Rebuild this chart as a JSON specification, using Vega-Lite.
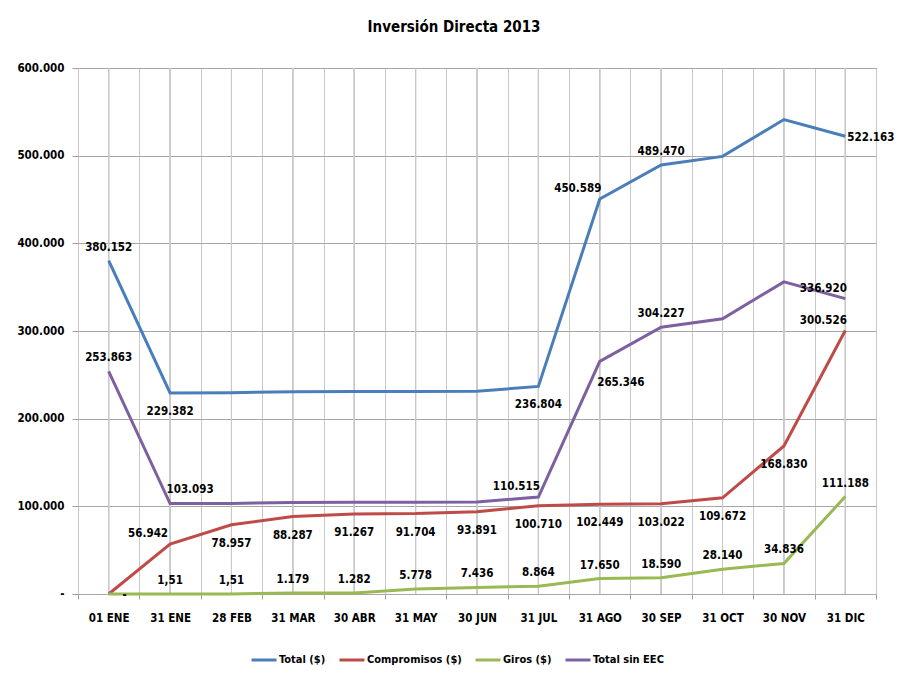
{
  "$schema": "https://vega.github.io/schema/vega-lite/v6.json",
  "autosize": {"type": "none"},
  "width": 798,
  "height": 526,
  "padding": {"left": 78, "top": 68, "right": 24, "bottom": 83},
  "background": "white",
  "title": {"text": "Inversión Directa 2013", "fontSize": 15, "fontWeight": "bold", "color": "#000000", "font": "DejaVu Sans Condensed, Liberation Sans, sans-serif", "anchor": "middle", "dx": -23, "offset": 27},
  "config": {
    "locale": {"number": {"decimal": ",", "thousands": ".", "grouping": [3], "currency": ["$", ""]}},
    "view": {"stroke": "#a0a0a0", "strokeWidth": 1},
    "font": "DejaVu Sans Condensed, Liberation Sans, sans-serif",
    "text": {"font": "DejaVu Sans Condensed, Liberation Sans, sans-serif", "fontSize": 11.5, "fontWeight": "bold", "fill": "#000000"}
  },
  "data": {"values": [
    {"serie": "Total ($)", "fecha": "01 ENE", "valor": 380152},
    {"serie": "Total ($)", "fecha": "31 ENE", "valor": 229382},
    {"serie": "Total ($)", "fecha": "28 FEB", "valor": 229600},
    {"serie": "Total ($)", "fecha": "31 MAR", "valor": 230800},
    {"serie": "Total ($)", "fecha": "30 ABR", "valor": 230900},
    {"serie": "Total ($)", "fecha": "31 MAY", "valor": 231100},
    {"serie": "Total ($)", "fecha": "30 JUN", "valor": 231300},
    {"serie": "Total ($)", "fecha": "31 JUL", "valor": 236804},
    {"serie": "Total ($)", "fecha": "31 AGO", "valor": 450589},
    {"serie": "Total ($)", "fecha": "30 SEP", "valor": 489470},
    {"serie": "Total ($)", "fecha": "31 OCT", "valor": 499200},
    {"serie": "Total ($)", "fecha": "30 NOV", "valor": 541200},
    {"serie": "Total ($)", "fecha": "31 DIC", "valor": 522163},
    {"serie": "Compromisos ($)", "fecha": "01 ENE", "valor": 0},
    {"serie": "Compromisos ($)", "fecha": "31 ENE", "valor": 56942},
    {"serie": "Compromisos ($)", "fecha": "28 FEB", "valor": 78957},
    {"serie": "Compromisos ($)", "fecha": "31 MAR", "valor": 88287},
    {"serie": "Compromisos ($)", "fecha": "30 ABR", "valor": 91267},
    {"serie": "Compromisos ($)", "fecha": "31 MAY", "valor": 91704},
    {"serie": "Compromisos ($)", "fecha": "30 JUN", "valor": 93891},
    {"serie": "Compromisos ($)", "fecha": "31 JUL", "valor": 100710},
    {"serie": "Compromisos ($)", "fecha": "31 AGO", "valor": 102449},
    {"serie": "Compromisos ($)", "fecha": "30 SEP", "valor": 103022},
    {"serie": "Compromisos ($)", "fecha": "31 OCT", "valor": 109672},
    {"serie": "Compromisos ($)", "fecha": "30 NOV", "valor": 168830},
    {"serie": "Compromisos ($)", "fecha": "31 DIC", "valor": 300526},
    {"serie": "Giros ($)", "fecha": "01 ENE", "valor": 0},
    {"serie": "Giros ($)", "fecha": "31 ENE", "valor": 1.51},
    {"serie": "Giros ($)", "fecha": "28 FEB", "valor": 1.51},
    {"serie": "Giros ($)", "fecha": "31 MAR", "valor": 1179},
    {"serie": "Giros ($)", "fecha": "30 ABR", "valor": 1282},
    {"serie": "Giros ($)", "fecha": "31 MAY", "valor": 5778},
    {"serie": "Giros ($)", "fecha": "30 JUN", "valor": 7436},
    {"serie": "Giros ($)", "fecha": "31 JUL", "valor": 8864},
    {"serie": "Giros ($)", "fecha": "31 AGO", "valor": 17650},
    {"serie": "Giros ($)", "fecha": "30 SEP", "valor": 18590},
    {"serie": "Giros ($)", "fecha": "31 OCT", "valor": 28140},
    {"serie": "Giros ($)", "fecha": "30 NOV", "valor": 34836},
    {"serie": "Giros ($)", "fecha": "31 DIC", "valor": 111188},
    {"serie": "Total sin EEC", "fecha": "01 ENE", "valor": 253863},
    {"serie": "Total sin EEC", "fecha": "31 ENE", "valor": 103093},
    {"serie": "Total sin EEC", "fecha": "28 FEB", "valor": 103300},
    {"serie": "Total sin EEC", "fecha": "31 MAR", "valor": 104500},
    {"serie": "Total sin EEC", "fecha": "30 ABR", "valor": 104600},
    {"serie": "Total sin EEC", "fecha": "31 MAY", "valor": 104800},
    {"serie": "Total sin EEC", "fecha": "30 JUN", "valor": 105000},
    {"serie": "Total sin EEC", "fecha": "31 JUL", "valor": 110515},
    {"serie": "Total sin EEC", "fecha": "31 AGO", "valor": 265346},
    {"serie": "Total sin EEC", "fecha": "30 SEP", "valor": 304227},
    {"serie": "Total sin EEC", "fecha": "31 OCT", "valor": 314000},
    {"serie": "Total sin EEC", "fecha": "30 NOV", "valor": 356000},
    {"serie": "Total sin EEC", "fecha": "31 DIC", "valor": 336920}
  ]},
  "encoding": {
    "x": {
      "field": "fecha", "type": "ordinal",
      "sort": ["01 ENE", "31 ENE", "28 FEB", "31 MAR", "30 ABR", "31 MAY", "30 JUN", "31 JUL", "31 AGO", "30 SEP", "31 OCT", "30 NOV", "31 DIC"],
      "scale": {"type": "band", "paddingInner": 0, "paddingOuter": 0},
      "bandPosition": 0.5,
      "axis": {
        "title": null, "labelAngle": 0, "tickBand": "extent", "grid": true, "gridColor": "#c8c8c8", "gridWidth": 1,
        "domain": false, "ticks": true, "tickColor": "#a0a0a0", "tickSize": 5, "labelPadding": 13,
        "labelFont": "DejaVu Sans Condensed, Liberation Sans, sans-serif", "labelFontSize": 11.5, "labelFontWeight": "bold", "labelColor": "#000000"
      }
    },
    "y": {
      "field": "valor", "type": "quantitative",
      "scale": {"domain": [0, 600000], "nice": false},
      "axis": {
        "title": null, "values": [0, 100000, 200000, 300000, 400000, 500000, 600000], "format": ",d",
        "labelExpr": "datum.value == 0 ? '-' : datum.label",
        "grid": true, "gridColor": "#a6a6a6", "gridWidth": 1, "domain": false, "ticks": true, "tickColor": "#a0a0a0", "tickSize": 6, "labelPadding": 8,
        "labelFont": "DejaVu Sans Condensed, Liberation Sans, sans-serif", "labelFontSize": 11.5, "labelFontWeight": "bold", "labelColor": "#000000"
      }
    }
  },
  "layer": [
    {
      "mark": {"type": "rule", "color": "#c8c8c8", "strokeWidth": 1},
      "encoding": {"y": null}
    },
    {
      "mark": {"type": "line", "strokeWidth": 3, "interpolate": "linear"},
      "encoding": {
        "color": {
          "field": "serie", "type": "nominal",
          "scale": {"domain": ["Total ($)", "Compromisos ($)", "Giros ($)", "Total sin EEC"], "range": ["#4a7ebb", "#be4b48", "#98b954", "#7d60a0"]},
          "legend": {
            "title": null, "orient": "none", "direction": "horizontal", "legendX": 172, "legendY": 578,
            "symbolType": "stroke", "symbolStrokeWidth": 3, "symbolSize": 625, "labelOffset": 1, "columnPadding": 7,
            "labelFont": "DejaVu Sans Condensed, Liberation Sans, sans-serif", "labelFontSize": 11, "labelFontWeight": "bold", "labelColor": "#000000"
          }
        }
      }
    },
    {
      "transform": [{"filter": "(datum.serie == 'Giros ($)' && datum.fecha != '01 ENE') || ((datum.serie == 'Total ($)' || datum.serie == 'Total sin EEC') && (datum.fecha == '01 ENE' || datum.fecha == '30 SEP'))"}],
      "mark": {"type": "text", "dy": -13, "align": "center", "baseline": "middle"},
      "encoding": {"text": {"field": "valor", "type": "quantitative", "format": ",.3~f"}}
    },
    {
      "transform": [{"filter": "(datum.serie == 'Compromisos ($)' && datum.fecha != '01 ENE' && datum.fecha != '31 ENE' && datum.fecha != '31 DIC') || (datum.serie == 'Total ($)' && (datum.fecha == '31 ENE' || datum.fecha == '31 JUL'))"}],
      "mark": {"type": "text", "dy": 19, "align": "center", "baseline": "middle"},
      "encoding": {"text": {"field": "valor", "type": "quantitative", "format": ",.3~f"}}
    },
    {
      "transform": [{"filter": "(datum.serie == 'Total ($)' && datum.fecha == '31 AGO') || (datum.serie == 'Compromisos ($)' && (datum.fecha == '31 DIC' || datum.fecha == '31 ENE')) || (datum.serie == 'Total sin EEC' && (datum.fecha == '31 JUL' || datum.fecha == '31 DIC'))"}],
      "mark": {"type": "text", "dx": -22, "dy": -10, "align": "center", "baseline": "middle"},
      "encoding": {"text": {"field": "valor", "type": "quantitative", "format": ",.3~f"}}
    },
    {
      "transform": [{"filter": "(datum.serie == 'Total sin EEC' && datum.fecha == '31 ENE')"}],
      "mark": {"type": "text", "dx": 20, "dy": -14, "align": "center", "baseline": "middle"},
      "encoding": {"text": {"field": "valor", "type": "quantitative", "format": ",.3~f"}}
    },
    {
      "transform": [{"filter": "(datum.serie == 'Total ($)' && datum.fecha == '31 DIC')"}],
      "mark": {"type": "text", "dx": 2, "dy": 2, "align": "left", "baseline": "middle"},
      "encoding": {"text": {"field": "valor", "type": "quantitative", "format": ",.3~f"}}
    },
    {
      "transform": [{"filter": "(datum.serie == 'Total sin EEC' && datum.fecha == '31 AGO')"}],
      "mark": {"type": "text", "dx": 21, "dy": 22, "align": "center", "baseline": "middle"},
      "encoding": {"text": {"field": "valor", "type": "quantitative", "format": ",.3~f"}}
    },
    {
      "transform": [{"filter": "datum.serie == 'Giros ($)' && datum.fecha == '01 ENE'"}],
      "mark": {"type": "text", "dx": 16, "dy": 2, "align": "center", "baseline": "middle"},
      "encoding": {"text": {"value": "-"}}
    }
  ]
}
